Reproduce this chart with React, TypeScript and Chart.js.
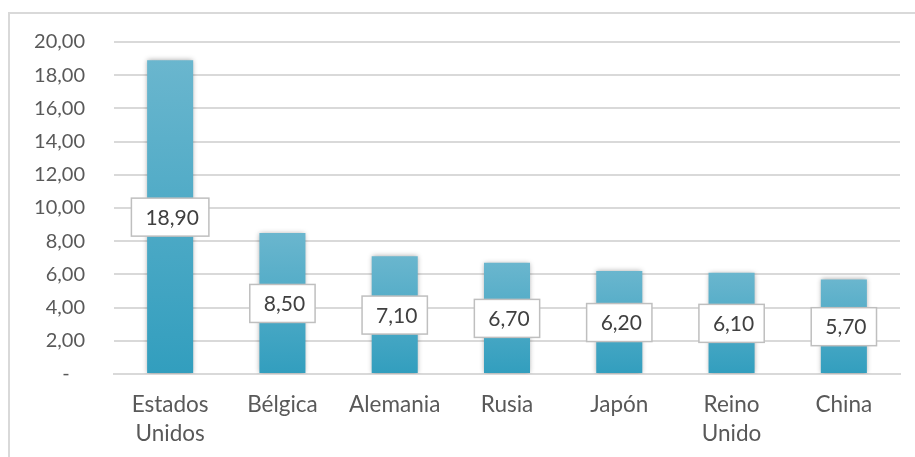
import React, { useEffect, useRef } from "react";
import { Chart, registerables } from "chart.js";

Chart.register(...registerables);

const categories: (string | string[])[] = [
  ["Estados", "Unidos"],
  "Bélgica",
  "Alemania",
  "Rusia",
  "Japón",
  ["Reino", "Unido"],
  "China",
];
const values: number[] = [18.9, 8.5, 7.1, 6.7, 6.2, 6.1, 5.7];
const yMin = 0;
const yMax = 20;
const yStep = 2;

const FONT = "Lato, 'Open Sans', sans-serif";
const fmt = (v: number) => v.toFixed(2).replace(".", ",");

export default function App() {
  const ref = useRef<HTMLCanvasElement | null>(null);

  useEffect(() => {
    document.body.style.margin = "0";
    const canvas = ref.current;
    if (!canvas) return;

    const frame = {
      id: "frame",
      beforeDraw(chart: any) {
        const ctx = chart.ctx;
        ctx.save();
        ctx.fillStyle = "#ffffff";
        ctx.fillRect(0, 0, chart.width, chart.height);
        ctx.strokeStyle = "#d9d9d9";
        ctx.lineWidth = 2;
        ctx.strokeRect(9, 13, chart.width + 20, chart.height + 20);
        ctx.restore();
      },
    };

    const shadow = {
      id: "shadow",
      beforeDatasetsDraw(chart: any) {
        const ctx = chart.ctx;
        ctx.save();
        ctx.shadowColor = "rgba(0,0,0,0.35)";
        ctx.shadowBlur = 5;
        ctx.shadowOffsetX = 0;
        ctx.shadowOffsetY = 0;
      },
      afterDatasetsDraw(chart: any) {
        chart.ctx.restore();
      },
    };

    const labels = {
      id: "boxLabels",
      afterDatasetsDraw(chart: any) {
        const ctx = chart.ctx;
        const meta = chart.getDatasetMeta(0);
        const ys = chart.scales.y;
        ctx.save();
        ctx.font = `21px ${FONT}`;
        ctx.textBaseline = "middle";
        ctx.textAlign = "center";
        meta.data.forEach((bar: any, i: number) => {
          const v = values[i];
          const text = fmt(v);
          const cy = ys.getPixelForValue(v / 2);
          const tw = ctx.measureText(text).width;
          const w = tw + 24;
          const h = 38;
          const x = bar.x - w / 2;
          const y = cy - h / 2;
          ctx.fillStyle = "#ffffff";
          ctx.fillRect(x, y, w, h);
          ctx.strokeStyle = "#bfbfbf";
          ctx.lineWidth = 1.5;
          ctx.strokeRect(x, y, w, h);
          ctx.fillStyle = "#404040";
          ctx.fillText(text, bar.x + 2, cy + 1);
        });
        ctx.restore();
      },
    };

    const chart = new Chart(canvas, {
      type: "bar",
      data: {
        labels: categories,
        datasets: [
          {
            data: values,
            backgroundColor: (c: any) => {
              const ch = c.chart;
              const ys = ch.scales?.y;
              if (!ys || !ch.chartArea || c.dataIndex === undefined) return "#4aaccb";
              const top = ys.getPixelForValue(values[c.dataIndex]);
              const base = ys.getPixelForValue(0);
              const g = ch.ctx.createLinearGradient(0, top, 0, base);
              g.addColorStop(0, "rgb(106,182,206)");
              g.addColorStop(1, "rgb(50,158,190)");
              return g;
            },
            borderWidth: 0,
            barPercentage: 0.41,
            categoryPercentage: 1,
          },
        ],
      },
      options: {
        animation: false,
        responsive: false,
        maintainAspectRatio: false,
        layout: { padding: { top: 42, right: 15, left: 0, bottom: 0 } },
        plugins: {
          legend: { display: false },
          tooltip: { enabled: false },
          title: { display: false },
        },
        scales: {
          x: {
            grid: { display: false, drawTicks: false },
            border: { display: true, color: "#d9d9d9", width: 2 },
            ticks: {
              color: "#595959",
              font: { family: FONT, size: 22.5, lineHeight: 1.29 },
              padding: 16,
              maxRotation: 0,
              autoSkip: false,
            },
            afterFit: (s: any) => {
              s.height = 83;
            },
          },
          y: {
            min: yMin,
            max: yMax,
            grid: { color: "#d9d9d9", lineWidth: 2, drawTicks: false },
            border: { display: false },
            ticks: {
              stepSize: yStep,
              color: "#595959",
              font: { family: FONT, size: 20 },
              padding: 29,
              callback: (v: any) => (Number(v) === 0 ? "-   " : fmt(Number(v))),
            },
            afterFit: (s: any) => {
              s.width = 114;
            },
          },
        },
      },
      plugins: [frame, shadow, labels],
    } as any);

    return () => chart.destroy();
  }, []);

  return (
    <div style={{ width: 915, height: 457 }}>
      <canvas ref={ref} width={915} height={457} style={{ width: 915, height: 457, display: "block" }} />
    </div>
  );
}
